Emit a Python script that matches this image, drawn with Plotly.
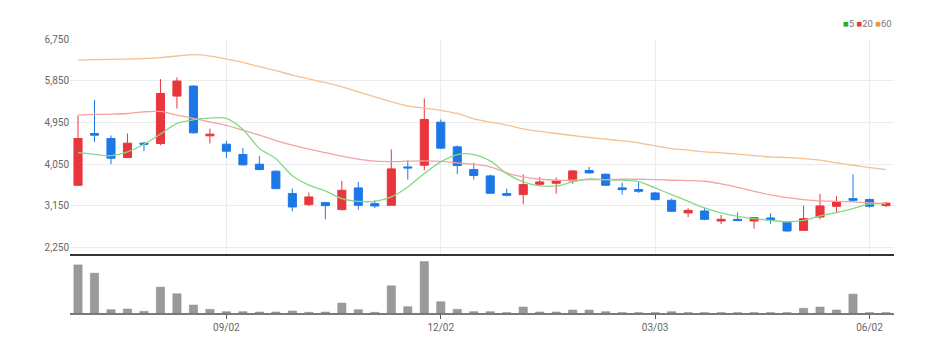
import pandas as pd
import plotly.graph_objects as go

dates = pd.date_range("2024-07-01", periods=50, freq="7D")

opens = [3596, 4712, 4604, 4194, 4504, 4496, 5519, 5735, 4662, 4482,
         4259, 4050, 3899, 3416, 3179, 3222, 3071, 3539, 3200, 3164,
         3992, 4028, 4957, 4424, 3935, 3798, 3416, 3395, 3618, 3640,
         3690, 3913, 3834, 3539, 3503, 3431, 3272, 2999, 3042, 2826,
         2862, 2826, 2891, 2797, 2624, 2912, 3143, 3308, 3290, 3157]
highs = [5100, 5432, 4669, 4712, 4532, 5886, 5922, 5749, 4820, 4554,
         4403, 4230, 3920, 3524, 3438, 3236, 3690, 3668, 3272, 4367,
         4136, 5468, 5015, 4453, 4079, 3827, 3524, 3827, 3776, 3762,
         3920, 3992, 3848, 3654, 3668, 3452, 3308, 3100, 3114, 2955,
         3010, 2912, 2995, 2826, 3160, 3416, 3366, 3834, 3308, 3236]
lows = [3580, 4532, 4050, 4180, 4331, 4460, 5252, 4712, 4496, 4187,
        4021, 3920, 3510, 3035, 3150, 2862, 3056, 3071, 3107, 3164,
        3719, 3920, 4381, 3834, 3719, 3409, 3359, 3186, 3582, 3416,
        3626, 3848, 3582, 3395, 3431, 3272, 3020, 2912, 2840, 2762,
        2826, 2660, 2768, 2595, 2624, 2862, 3020, 3236, 3114, 3128]
closes = [4604, 4676, 4180, 4504, 4482, 5576, 5843, 4727, 4698, 4331,
          4036, 3935, 3524, 3128, 3344, 3157, 3488, 3164, 3150, 3949,
          3971, 5015, 4396, 4021, 3806, 3424, 3380, 3611, 3668, 3690,
          3906, 3863, 3596, 3503, 3467, 3287, 3035, 3056, 2862, 2862,
          2834, 2898, 2855, 2610, 2876, 3150, 3240, 3272, 3143, 3210]

ma5 = [4300, 4262, 4234, 4316, 4480, 4700, 4930, 5010, 5045, 5040,
       4800, 4390, 4170, 3800, 3600, 3474, 3309, 3250, 3250, 3344,
       3560, 3848, 4100, 4259, 4259, 4122, 3848, 3668, 3582, 3582,
       3668, 3733, 3719, 3705, 3676, 3539, 3395, 3251, 3107, 3000,
       2927, 2877, 2840, 2810, 2840, 2934, 3006, 3092, 3193, 3200]
ma20 = [5108, 5123, 5130, 5144, 5180, 5188, 5110, 5040, 4964, 4888,
        4784, 4676, 4560, 4460, 4374, 4302, 4223, 4158, 4115, 4108,
        4115, 4122, 4110, 4079, 4050, 3992, 3862, 3776, 3726, 3704,
        3704, 3719, 3719, 3726, 3726, 3719, 3704, 3697, 3683, 3625,
        3553, 3467, 3387, 3330, 3287, 3258, 3251, 3236, 3215, 3200]
ma60 = [6296, 6304, 6311, 6318, 6325, 6347, 6383, 6412, 6383, 6318,
        6246, 6152, 6066, 5972, 5890, 5807, 5720, 5612, 5504, 5396,
        5303, 5260, 5209, 5144, 5029, 4957, 4892, 4813, 4756, 4712,
        4669, 4626, 4590, 4554, 4511, 4446, 4388, 4352, 4316, 4295,
        4266, 4237, 4208, 4194, 4172, 4136, 4079, 4028, 3978, 3935]

volume = [145, 120, 10, 12, 5, 78, 58, 24, 11, 4,
          4, 3, 3, 6, 2, 3, 30, 10, 2, 82,
          19, 155, 34, 11, 4, 4, 1, 18, 3, 3,
          9, 9, 4, 1, 1, 1, 4, 1, 1, 1,
          1, 1, 1, 1, 14, 18, 9, 57, 1, 1]
volume = [v * 1000 for v in volume]

price_ticks = [2250, 3150, 4050, 4950, 5850, 6750]
date_ticks = ["2024-09-02", "2024-12-02", "2025-03-03", "2025-06-02"]
date_tick_labels = ["09/02", "12/02", "03/03", "06/02"]

FONT = "Roboto"
GRAY = "#666666"

fig = go.Figure()

for vals, col in ((ma60, "#f6c08e"), (ma20, "#f3a3a3"), (ma5, "#86d886")):
    fig.add_trace(go.Scatter(x=dates, y=vals, mode="lines",
                             line=dict(color=col, width=1.3, shape="spline", smoothing=0.8),
                             showlegend=False, xaxis="x", yaxis="y"))

fig.add_trace(go.Candlestick(
    x=dates, open=opens, high=highs, low=lows, close=closes,
    increasing=dict(line=dict(color="#e8363c", width=1), fillcolor="#e8363c"),
    decreasing=dict(line=dict(color="#1c78e6", width=1), fillcolor="#1c78e6"),
    whiskerwidth=0, showlegend=False, xaxis="x", yaxis="y"))

fig.add_trace(go.Bar(x=dates, y=volume, width=3.5 * 24 * 3600 * 1000,
                     marker=dict(color="#9a9a9a", line=dict(color="#888888", width=0.5)),
                     showlegend=False, xaxis="x2", yaxis="y2"))

x_range = [dates[0] - pd.Timedelta(days=3.4), dates[-1] + pd.Timedelta(days=3.4)]

fig.update_layout(
    width=943, height=353,
    margin=dict(l=70, r=49, t=39, b=40),
    paper_bgcolor="white", plot_bgcolor="white",
    font=dict(family=FONT, size=10, color=GRAY),
    xaxis=dict(domain=[0, 1], anchor="y", type="date", range=x_range,
               tickvals=date_ticks, showticklabels=False,
               showgrid=True, gridcolor="#ececec", gridwidth=1,
               showline=True, linecolor="#333333", linewidth=2,
               zeroline=False, rangeslider=dict(visible=False), fixedrange=True),
    yaxis=dict(domain=[0.2153, 1], anchor="x", range=[2114, 6750],
               tickvals=price_ticks, tickformat=",", showgrid=True,
               gridcolor="#ececec", gridwidth=1, zeroline=False, showline=False,
               tickfont=dict(family=FONT, size=10, color=GRAY)),
    xaxis2=dict(domain=[0, 1], anchor="y2", type="date", range=x_range,
                matches="x", tickvals=date_ticks, ticktext=date_tick_labels,
                ticks="outside", ticklen=4, tickcolor="#555555",
                showgrid=False, showline=True, linecolor="#7a7a7a", linewidth=2,
                zeroline=False, tickfont=dict(family=FONT, size=10, color=GRAY)),
    yaxis2=dict(domain=[0, 0.197], anchor="x2", range=[0, 155000 * 1.05],
                showticklabels=False, showgrid=False, zeroline=False, showline=False),
    annotations=[dict(
        xref="paper", yref="paper", x=1, y=1.055, xanchor="right", yanchor="middle",
        showarrow=False,
        text=('<span style="color:#22b022">■</span>5 '
              '<span style="color:#e83b3b">■</span>20 '
              '<span style="color:#f0992e">■</span>60'),
        font=dict(family=FONT, size=9.5, color="#777777"))],
)

fig.write_html("out.html")
